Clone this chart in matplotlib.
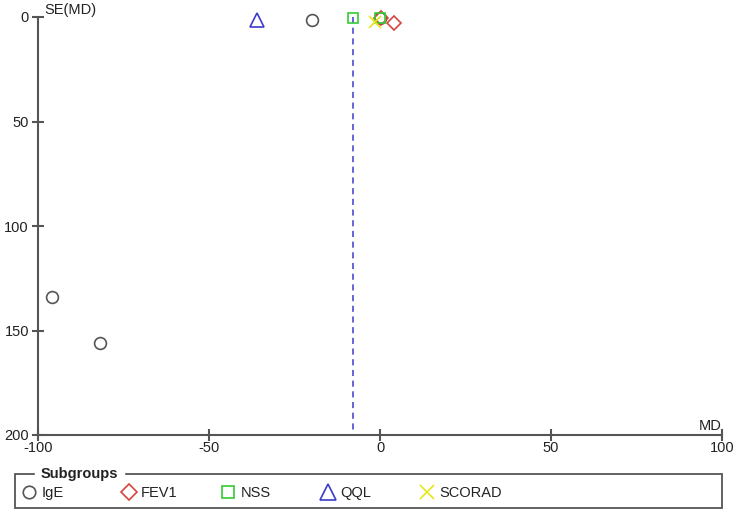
import matplotlib
matplotlib.use("Agg")
import matplotlib.pyplot as plt
from matplotlib.lines import Line2D
from matplotlib.patches import Rectangle

plt.rcParams['font.family'] = ['Liberation Sans', 'DejaVu Sans']

# funnel plot data: mean difference (MD) and its standard error, per subgroup
ige_md = [-20, 0, -96, -82]
ige_se = [1.5, 0.5, 134, 156]
fev1_md = [4.2, 0.3]
fev1_se = [3.0, 0.5]
nss_md = [-7.8, 0.0]
nss_se = [0.3, 0.3]
qql_md = [-36]
qql_se = [1.5]
scorad_md = [-1.5]
scorad_se = [2.5]

pooled_md = -8.0
x_ticks = [-100, -50, 0, 50, 100]
y_ticks = [0, 50, 100, 150, 200]

grey = '#555555'
txt = '#222222'
red = '#d9443f'
green = '#33cc33'
blue = '#3b3bcc'
yellow = '#e6e619'
fs = 10.5

fig = plt.figure(figsize=(7.38, 5.13), dpi=100)
ax = fig.add_axes([38 / 738, 1 - 435 / 513, 684 / 738, 418 / 513])

ax.plot([pooled_md, pooled_md], [0, 200], color=blue, linestyle=(0, (4, 3)),
        linewidth=1.1, zorder=1)

mk = dict(linestyle='none', markerfacecolor='none', markeredgewidth=1.2, zorder=3,
          clip_on=False)
ax.plot(ige_md, ige_se, marker='o', markersize=8.5, markeredgecolor=grey, **mk)
ax.plot(fev1_md, fev1_se, marker='D', markersize=7.5, markeredgecolor=red, **mk)
ax.plot(nss_md, nss_se, marker='s', markersize=7, markeredgecolor=green, **mk)
ax.plot(qql_md, qql_se, marker='^', markersize=10, markeredgecolor=blue, **mk)
ax.plot(scorad_md, scorad_se, marker='x', markersize=8, markeredgecolor=yellow, **mk)

ax.set_xlim(-100, 100)
ax.set_ylim(200, 0)
ax.set_xticks(x_ticks)
ax.set_yticks(y_ticks)
ax.set_xticklabels([str(v) for v in x_ticks], fontsize=fs, color=txt)
ax.set_yticklabels([str(v) for v in y_ticks], fontsize=fs, color=txt)
for s in ['top', 'right']:
    ax.spines[s].set_visible(False)
for s in ['left', 'bottom']:
    ax.spines[s].set_color(grey)
    ax.spines[s].set_linewidth(1.5)
ax.tick_params(direction='inout', length=9, width=1.5, color=grey)
ax.tick_params(axis='x', pad=0)
ax.tick_params(axis='y', pad=2)

ax.text(0.01, 1.0, 'SE(MD)', transform=ax.transAxes, fontsize=fs, color=txt,
        ha='left', va='bottom')
ax.text(1.0, 0.005, 'MD', transform=ax.transAxes, fontsize=fs, color=txt,
        ha='right', va='bottom')

# legend box, RevMan style with title on the border
box = Rectangle((15 / 738, 1 - 508 / 513), 707 / 738, 34 / 513,
                transform=fig.transFigure, fill=False, edgecolor=grey,
                linewidth=1.3)
fig.patches.append(box)
fig.text(41 / 738, 1 - 474 / 513, 'Subgroups', fontsize=fs, fontweight='bold',
         color=txt, ha='left', va='center', backgroundcolor='white')

leg_mk = dict(mk, clip_on=True)
handles = [
    Line2D([], [], marker='o', markersize=9, markeredgecolor=grey, **leg_mk),
    Line2D([], [], marker='D', markersize=8, markeredgecolor=red, **leg_mk),
    Line2D([], [], marker='s', markersize=8, markeredgecolor=green, **leg_mk),
    Line2D([], [], marker='^', markersize=12, markeredgecolor=blue, **leg_mk),
    Line2D([], [], marker='x', markersize=10, markeredgecolor=yellow, **leg_mk),
]
labels = ['IgE', 'FEV1', 'NSS', 'QQL', 'SCORAD']
for i, (h, lab) in enumerate(zip(handles, labels)):
    fig.legend([h], [lab], loc='center left',
               bbox_to_anchor=((22 + 99.5 * i) / 738, 1 - 493 / 513),
               frameon=False, fontsize=fs, handlelength=1.0, handletextpad=0.35,
               borderpad=0, borderaxespad=0, labelcolor=txt)

fig.savefig('out.png', dpi=100)
